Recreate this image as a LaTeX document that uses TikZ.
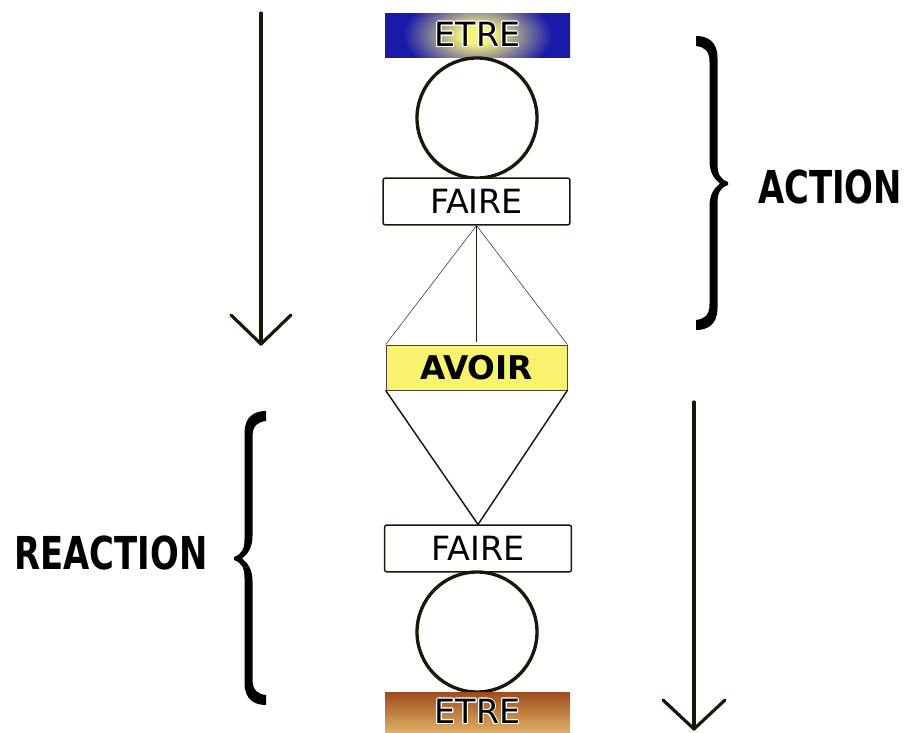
\documentclass[tikz,border=0pt]{standalone}
\usepackage{fontspec}
\setmainfont{DejaVu Sans}
\newfontfamily\condfont{DejaVu Sans Condensed}
\usepackage{graphicx}
\usepackage[copies]{contour}
\contourlength{0.7pt}
\definecolor{etreblue}{RGB}{26,26,170}
\definecolor{glowy}{RGB}{245,243,125}
\definecolor{avoiry}{RGB}{248,242,110}
\definecolor{browntop}{RGB}{158,76,30}
\definecolor{brownbot}{RGB}{222,175,100}
\definecolor{dark}{RGB}{25,22,10}
\pgfdeclareradialshading{etreglow}{\pgfpoint{0bp}{0bp}}{color(0bp)=(glowy); color(3bp)=(glowy); color(14bp)=(etreblue); color(50bp)=(etreblue)}
\tikzset{
  boxtext/.style={font=\fontsize{25pt}{25pt}\selectfont, text=black, inner sep=0pt},
  etretop/.style={boxtext, rectangle, minimum width=138.75pt, minimum height=33pt, fill=etreblue,
    path picture={\shade[shading=etreglow] ([shift={(-100pt,-55pt)}]path picture bounding box.center) rectangle ([shift={(100pt,55pt)}]path picture bounding box.center);}},
  etrebot/.style={boxtext, rectangle, minimum width=138.75pt, minimum height=30pt, top color=browntop, bottom color=brownbot},
  fairebox/.style={boxtext, rectangle, draw=dark, line width=1.1pt, rounded corners=1.5pt, fill=white, minimum width=140pt, minimum height=35pt},
  avoirbox/.style={boxtext, rectangle, draw=dark!80, line width=0.6pt, fill=avoiry, minimum width=135.75pt, minimum height=33.75pt, font=\fontsize{24.5pt}{24.5pt}\selectfont\bfseries},
  ring/.style={circle, draw=dark, line width=2.5pt, minimum size=90pt, inner sep=0pt},
  thinline/.style={draw=black!75, line width=0.45pt},
  midline/.style={draw=dark, line width=0.8pt},
  sideline/.style={draw=dark, line width=1.1pt},
  arrowline/.style={draw=dark, line width=2.4pt, line join=round, line cap=round},
  bigword/.style={inner sep=0pt, font=\condfont\bfseries\fontsize{34pt}{34pt}\selectfont},
  curly/.pic={
    \fill[black] (-17,0) .. controls (-6,0) and (4.5,5) .. (4.5,22) -- (4.5,128)
      .. controls (4.5,138) and (7,143) .. (15,146) -- (15,149)
      .. controls (7,152) and (4.5,157) .. (4.5,167) -- (4.5,272)
      .. controls (4.5,289) and (-6,294) .. (-17,294) -- (-17,284)
      .. controls (-9,283) and (-3.5,280) .. (-3.5,268) -- (-3.5,170)
      .. controls (-3.5,159) and (1,152) .. (7,147.5)
      .. controls (1,143) and (-3.5,136) .. (-3.5,125) -- (-3.5,26)
      .. controls (-3.5,14) and (-9,11) .. (-17,10) -- cycle;
  }
}
\begin{document}
\begin{tikzpicture}[x=0.75pt,y=-0.75pt]
\useasboundingbox[fill=white] (0,0) rectangle (909,732);

% central column
\node[etretop] (etre1) at (477.5,35) {\contour{white}{ETRE}};
\node[ring] (c1) at (477,118) {};
\node[fairebox] (faire1) at (476.5,201.5) {FAIRE};
\node[avoirbox] (avoir) at (476.5,367.5) {AVOIR};
\node[fairebox] (faire2) at (478,548.5) {FAIRE};
\node[ring] (c2) at (477,632) {};
\node[etrebot] (etre2) at (477.5,712) {\contour{white}{ETRE}};

% connectors
\draw[thinline] (faire1.south) -- (avoir.north west);
\draw[thinline] (faire1.south) -- (avoir.north east);
\draw[midline] (faire1.south) -- ([yshift=2pt]avoir.north);
\draw[sideline] (avoir.south west) -- (faire2.north);
\draw[sideline] (avoir.south east) -- (faire2.north);

% left arrow
\coordinate (la1) at (261,13);
\coordinate (la2) at (261,344);
\coordinate (lal) at (231,315);
\coordinate (lar) at (291,315);
\draw[arrowline] (la1) -- (la2);
\draw[arrowline] (lal) -- (la2) -- (lar);

% right arrow
\coordinate (ra1) at (694,402);
\coordinate (ra2) at (694,729);
\coordinate (ral) at (663,700);
\coordinate (rar) at (725,700);
\draw[arrowline] (ra1) -- (ra2);
\draw[arrowline] (ral) -- (ra2) -- (rar);

% braces
\pic at (713,36) {curly};
\pic[xscale=-1] at (249,411) {curly};

% labels
\node[bigword] (action) at (830,187) {\scalebox{0.83}[1]{ACTION}};
\node[bigword] (reaction) at (111,553) {\scalebox{0.83}[1]{REACTION}};
\end{tikzpicture}
\end{document}
